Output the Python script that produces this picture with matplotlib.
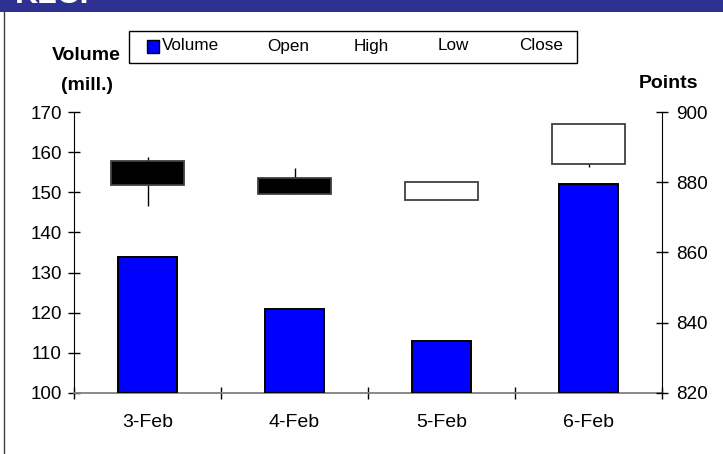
import matplotlib
matplotlib.use("Agg")
import matplotlib.pyplot as plt
from matplotlib.patches import Rectangle
from matplotlib.lines import Line2D
import numpy as np

dates = ['3-Feb', '4-Feb', '5-Feb', '6-Feb']
volume = [134, 121, 113, 152]
open_ = [886.2, 881.3, 875.1, 885.2]
high = [887.3, 884.0, 880.0, 896.7]
low = [873.3, 876.6, 875.1, 884.5]
close = [879.3, 876.6, 880.0, 896.7]
vol_ticks = [100, 110, 120, 130, 140, 150, 160, 170]
pt_ticks = [820, 840, 860, 880, 900]
legend_labels = ['Volume', 'Open', 'High', 'Low', 'Close']

plt.rcParams['font.family'] = ['Liberation Sans', 'DejaVu Sans']

W, H = 723, 454
fig = plt.figure(figsize=(W / 100, H / 100), dpi=100)
fig.patch.set_facecolor('white')

def fx(p):
    return p / W

def fy(p):
    return 1 - p / H

# header band
fig.patches.append(Rectangle((0, fy(12)), 1, 12 / H, transform=fig.transFigure,
                             facecolor='#2E3192', edgecolor='none', zorder=1))
fig.text(fx(15), fy(3), 'KLCI', color='white', fontsize=23, fontweight='bold',
         va='baseline', ha='left', zorder=2)
# left border line
fig.lines.append(Line2D([fx(4), fx(4)], [0, fy(12)], transform=fig.transFigure,
                        color='#404040', lw=1))

left, right, top, bottom = 74, 662, 112.3, 392.7
ax = fig.add_axes([fx(left), fy(bottom), (right - left) / W, (bottom - top) / H])
ax.set_facecolor('none')
x = np.arange(len(dates))

ax.bar(x, np.array(volume) - 100, bottom=100, width=0.4, color='#0000FF',
       edgecolor='black', linewidth=1.4, zorder=3)
ax.set_ylim(100, 170)
ax.set_xlim(-0.5, 3.5)
ax.set_yticks(vol_ticks)
ax.tick_params(axis='y', direction='inout', length=8.6, width=1, labelsize=13.6, pad=4.5)
ax.set_xticks(np.arange(-0.5, 4.0, 1.0))
ax.set_xticklabels([])
ax.tick_params(axis='x', which='major', direction='inout', length=8.6, width=1)
ax.set_xticks(x, minor=True)
ax.set_xticklabels(dates, minor=True)
ax.tick_params(axis='x', which='minor', length=0, labelsize=14, pad=15)
for s in ['top', 'right']:
    ax.spines[s].set_visible(False)
ax.spines['bottom'].set_color('#808080')
ax.spines['bottom'].set_linewidth(1.3)
ax.spines['left'].set_color('black')

ax2 = ax.twinx()
ax2.set_ylim(820, 900)
ax2.set_yticks(pt_ticks)
ax2.tick_params(axis='y', direction='inout', length=8.6, width=1, labelsize=13.6, pad=6)
for s in ['top', 'left', 'bottom']:
    ax2.spines[s].set_visible(False)

o = np.array(open_)
c = np.array(close)
ax2.vlines(x, low, high, color='black', lw=1, zorder=2)
body_lo = np.minimum(o, c)
body_h = np.abs(c - o)
colors = ['black' if cc < oo else 'white' for oo, cc in zip(o, c)]
ax2.bar(x, body_h, bottom=body_lo, width=0.49, color=colors,
        edgecolor='#404040', linewidth=1.3, zorder=3)

# axis titles
fig.text(fx(86), fy(55), 'Volume', fontsize=14, fontweight='bold', ha='center', va='center')
fig.text(fx(87), fy(86), '(mill.)', fontsize=14, fontweight='bold', ha='center', va='center')
fig.text(fx(669), fy(83), 'Points', fontsize=14, fontweight='bold', ha='center', va='center')

# legend box
fig.patches.append(Rectangle((fx(129.3), fy(63.3)), (576.7 - 129.3) / W, (63.3 - 30.7) / H,
                             transform=fig.transFigure, facecolor='white',
                             edgecolor='black', lw=1, zorder=4))
fig.patches.append(Rectangle((fx(147), fy(52.5)), 12 / W, 13 / H,
                             transform=fig.transFigure, facecolor='#0000FF',
                             edgecolor='black', lw=1, zorder=5))
leg_x = [161.5, 267, 354, 437.3, 519.3]
for lx, lab in zip(leg_x, legend_labels):
    fig.text(fx(lx), fy(46), lab, fontsize=12.3, ha='left', va='center', zorder=6)

fig.savefig('out.png', dpi=100)
